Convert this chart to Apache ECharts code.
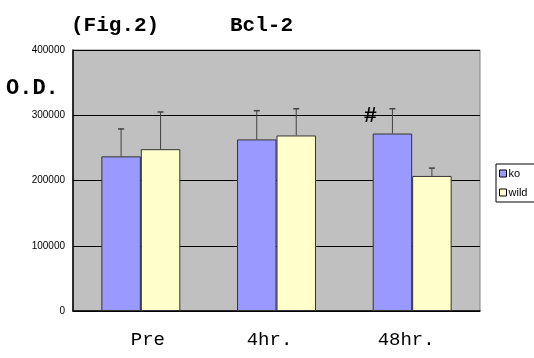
<!DOCTYPE html>
<html><head><meta charset="utf-8">
<script src="https://cdn.jsdelivr.net/npm/echarts@6/dist/echarts.min.js"></script>
<style>html,body{margin:0;padding:0;background:#fff}#c{width:534px;height:358px}</style>
</head><body><div id="c"></div>
<script>
const categories = ['Pre', '4hr.', '48hr.'];
const seriesNames = ['ko', 'wild'];
const koValues = [237000, 263000, 272000];
const koErrTop = [279000, 307000, 310000];
const wildValues = [248000, 269000, 207000];
const wildErrTop = [305000, 310000, 219000];
const yTicks = [0, 100000, 200000, 300000, 400000];
const annotations = [{cat: 2, series: 0, text: '#'}];

const chart = echarts.init(document.getElementById('c'));
const BW = 0.291;
function errSeries(idx, vals, tops) {
  return {
    type: 'custom', z: 5, silent: true,
    data: vals.map((v, i) => [i, v, tops[i]]),
    renderItem: function (params, api) {
      const i = api.value(0);
      const c0 = api.coord([i, api.value(1)]);
      const c1 = api.coord([i, api.value(2)]);
      const w = api.size([1, 0])[0] * BW;
      const x = c0[0] + (idx === 0 ? -w / 2 : w / 2);
      const ch = [
        {type: 'line', shape: {x1: x, y1: c0[1], x2: x, y2: c1[1]}, style: {stroke: '#404040', lineWidth: 1}},
        {type: 'line', shape: {x1: x - 3, y1: c1[1], x2: x + 3, y2: c1[1]}, style: {stroke: '#404040', lineWidth: 1.5}}
      ];
      annotations.forEach(a => {
        if (a.cat === i && a.series === idx) {
          ch.push({type: 'text', x: x - 22, y: c1[1] + 8, style: {text: a.text, font: 'bold 22px "Liberation Mono"', fill: '#000', align: 'center', verticalAlign: 'middle'}});
        }
      });
      return {type: 'group', children: ch};
    }
  };
}
const labelRich = {
  a: {fontFamily: 'Liberation Mono', fontSize: 19, color: '#000', padding: [0, 0, 0, 14]},
  b: {fontFamily: 'Liberation Mono', fontSize: 19, color: '#000', padding: [0, 14, 0, 0]},
  c: {fontFamily: 'Liberation Mono', fontSize: 19, color: '#000', padding: [0, 12, 0, 0]}
};
chart.setOption({
  animation: false,
  grid: {left: 73, right: 54, top: 50, bottom: 47, show: true, backgroundColor: '#c0c0c0', borderColor: '#808080', borderWidth: 1},
  title: [
    {text: '(Fig.2)', left: 66, top: 10, textStyle: {fontFamily: 'Liberation Mono', fontSize: 21, fontWeight: 'bold', color: '#000'}},
    {text: 'Bcl-2', left: 225, top: 10, textStyle: {fontFamily: 'Liberation Mono', fontSize: 21, fontWeight: 'bold', color: '#000'}},
    {text: 'O.D.', left: 1, top: 72, textStyle: {fontFamily: 'Liberation Mono', fontSize: 22, fontWeight: 'bold', color: '#000'}}
  ],
  legend: {
    orient: 'vertical', left: 496, top: 164, data: seriesNames,
    itemWidth: 7, itemHeight: 7, itemGap: 8, icon: 'rect',
    backgroundColor: '#fff', borderColor: '#000', borderWidth: 1, padding: [4, 10, 4, 3],
    textStyle: {fontFamily: 'Liberation Sans', fontSize: 11, color: '#000', padding: [0, 0, 0, -3]},
    itemStyle: {borderColor: '#000', borderWidth: 1}
  },
  xAxis: {
    type: 'category', data: categories,
    axisLine: {lineStyle: {color: '#000', width: 1.5}},
    axisTick: {inside: true, length: 4, lineStyle: {color: '#000'}},
    axisLabel: {margin: 19, color: '#000', rich: labelRich,
      formatter: (v, i) => '{' + ['a', 'b', 'c'][i] + '|' + v + '}'}
  },
  yAxis: {
    type: 'value', min: 0, max: 400000, interval: 100000,
    axisLine: {show: true, lineStyle: {color: '#000', width: 1.5}},
    axisTick: {show: false},
    splitLine: {lineStyle: {color: '#000', width: 1}},
    axisLabel: {fontFamily: 'Liberation Sans', fontSize: 10, color: '#000', margin: 8,
      formatter: v => yTicks.includes(v) ? String(v) : ''}
  },
  series: [
    {name: 'ko', type: 'bar', data: koValues, barWidth: '29.1%', barGap: '0%',
      itemStyle: {color: '#9999ff', borderColor: '#333', borderWidth: 1}},
    {name: 'wild', type: 'bar', data: wildValues, barWidth: '29.1%', barGap: '0%',
      itemStyle: {color: '#ffffcc', borderColor: '#333', borderWidth: 1}},
    errSeries(0, koValues, koErrTop),
    errSeries(1, wildValues, wildErrTop)
  ]
});
</script></body></html>
